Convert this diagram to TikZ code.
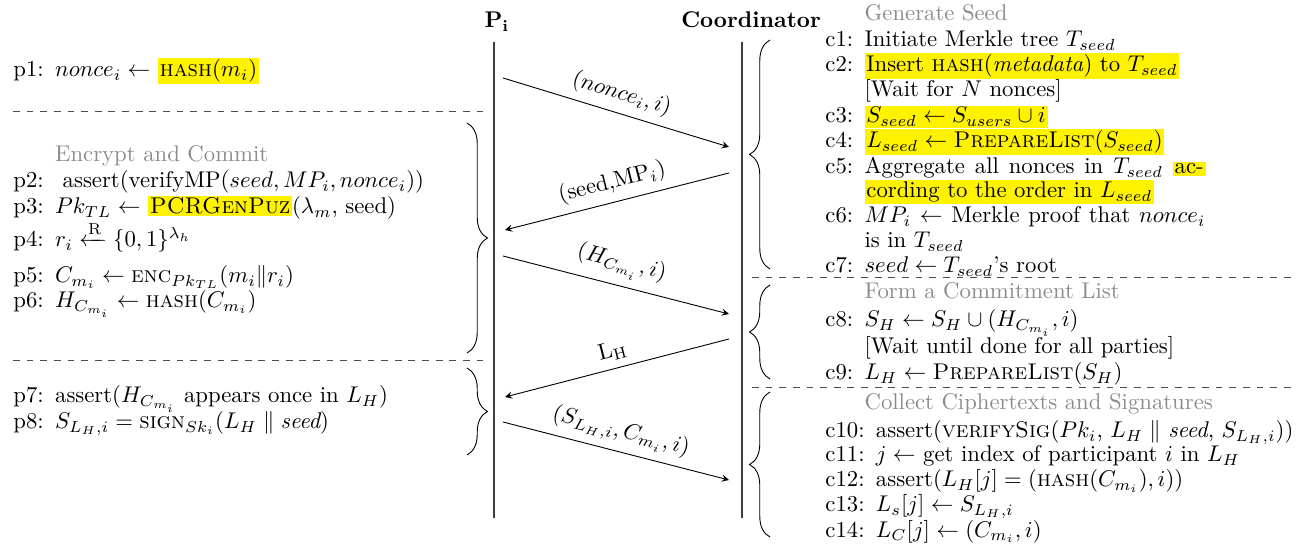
\documentclass[tikz,border=0pt]{standalone}
\usepackage{amsmath,amssymb}
\usetikzlibrary{decorations.pathreplacing}

\newcommand{\hlt}[1]{{\setlength{\fboxsep}{0.8pt}\colorbox{yellow}{#1}}}
\newcommand{\gap}{\hspace{5pt}}

\begin{document}
\begin{tikzpicture}[x=0.44pt,y=-0.44pt,
  line/.style={anchor=base west,inner sep=0pt},
  head/.style={anchor=base west,inner sep=0pt,text=black!45},
  life/.style={black!75,line width=0.6pt},
  msg/.style={-stealth},
  sep/.style={dashed,black!70},
  brc/.style={decorate,decoration={brace,amplitude=9pt}}]

\useasboundingbox (0,0) rectangle (1308,546);

% parties
\node[anchor=base] (pi) at (497,28) {$\mathbf{P_i}$};
\node[anchor=base] (co) at (751,28) {\textbf{Coordinator}};

\coordinate (pitop) at (494,42);
\coordinate (pibot) at (494,518);
\coordinate (cotop) at (742,42);
\coordinate (cobot) at (742,518);
\draw[life] (pitop) -- (pibot);
\draw[life] (cotop) -- (cobot);

% messages
\coordinate (m1s) at (503,78);
\coordinate (m1e) at (729,147);
\coordinate (m2s) at (729,173);
\coordinate (m2e) at (505,230);
\coordinate (m3s) at (503,256);
\coordinate (m3e) at (729,314);
\coordinate (m4s) at (729,339);
\coordinate (m4e) at (505,397);
\coordinate (m5s) at (503,422);
\coordinate (m5e) at (729,480);

\draw[msg] (m1s) -- node[above,sloped] (l1) {$(nonce_i, i)$} (m1e);
\draw[msg] (m2s) -- node[above,sloped] (l2) {(seed,MP$_i$)} (m2e);
\draw[msg] (m3s) -- node[above,sloped] (l3) {$(H_{C_{m_i}}, i)$} (m3e);
\draw[msg] (m4s) -- node[above,sloped] (l4) {$\mathrm{L_H}$} (m4e);
\draw[msg] (m5s) -- node[above,sloped] (l5) {$(S_{L_H,i}, C_{m_i}, i)$} (m5e);

% party steps
\node[line] (p1) at (13,77) {p1:\gap $nonce_i \leftarrow$ \hlt{\textsc{hash}$(m_i)$}};
\draw[sep] (13,111) -- (485,111);

\node[head] (hp) at (13,162) {\phantom{p1:}\gap Encrypt and Commit};
\node[line] (p2) at (13,188) {p2:\gap\ assert(verifyMP($seed, MP_i, nonce_i$))};
\node[line] (p3) at (13,214) {p3:\gap $Pk_{TL} \leftarrow$ \hlt{\textsc{PCRGenPuz}}$(\lambda_m$, seed)};
\node[line] (p4) at (13,247) {p4:\gap $r_i \xleftarrow{\mathrm{R}} \{0,1\}^{\lambda_h}$};
\node[line] (p5) at (13,283) {p5:\gap $C_{m_i} \leftarrow \textsc{enc}_{Pk_{TL}}(m_i \| r_i)$};
\node[line] (p6) at (13,308) {p6:\gap $H_{C_{m_i}} \leftarrow \textsc{hash}(C_{m_i})$};
\draw[brc] (467,123) -- (467,353);
\draw[sep] (13,360) -- (485,360);

\node[line] (p7) at (13,403) {p7:\gap assert($H_{C_{m_i}}$ appears once in $L_H$)};
\node[line] (p8) at (13,429) {p8:\gap $S_{L_H,i} = \textsc{sign}_{Sk_i}(L_H \parallel \textit{seed})$};
\draw[brc] (467,368) -- (467,455);

% coordinator steps
\node[head] (hc1) at (825,21) {\phantom{c1:}\gap Generate Seed};
\node[line] (c1) at (825,47) {c1:\gap Initiate Merkle tree $T_{seed}$};
\node[line] (c2) at (825,72) {c2:\gap \hlt{Insert \textsc{hash}(\textit{metadata}) to $T_{seed}$}};
\node[line] (w1) at (825,97) {\phantom{c1:}\gap [Wait for $N$ nonces]};
\node[line] (c3) at (825,123) {c3:\gap \hlt{$S_{seed} \leftarrow S_{users} \cup i$}};
\node[line] (c4) at (825,148) {c4:\gap \hlt{$L_{seed} \leftarrow \textsc{PrepareList}(S_{seed})$}};
\node[line] (c5) at (825,174) {c5:\gap \makebox[150pt][s]{Aggregate all nonces in $T_{seed}$ \hlt{ac-}}};
\node[line] (c5b) at (825,198) {\phantom{c1:}\gap \hlt{cording to the order in $L_{seed}$}};
\node[line] (c6) at (825,223) {c6:\gap \makebox[150pt][s]{$MP_i$ $\leftarrow$ Merkle proof that $nonce_i$}};
\node[line] (c6b) at (825,248) {\phantom{c1:}\gap is in $T_{seed}$};
\node[line] (c7) at (825,273) {c7:\gap $seed \leftarrow T_{seed}$'s root};
\draw[brc] (770,269) -- (770,40);
\draw[sep] (752,277) -- (1295,277);

\node[head] (hc2) at (825,299) {\phantom{c1:}\gap Form a Commitment List};
\node[line] (c8) at (825,327) {c8:\gap $S_H \leftarrow S_H \cup (H_{C_{m_i}}, i)$};
\node[line] (w2) at (825,354) {\phantom{c1:}\gap [Wait until done for all parties]};
\node[line] (c9) at (825,380) {c9:\gap $L_H \leftarrow \textsc{PrepareList}(S_H)$};
\draw[brc] (770,379) -- (770,285);
\draw[sep] (752,387) -- (1295,387);

\node[head] (hc3) at (825,410) {\phantom{c1:}\gap Collect Ciphertexts and Signatures};
\node[line] (c10) at (825,438) {c10:\gap assert(\textsc{verifySig}($Pk_i$, $L_H \parallel$ \textit{seed}, $S_{L_H,i}$))};
\node[line] (c11) at (825,462) {c11:\gap $j \leftarrow$ get index of participant $i$ in $L_H$};
\node[line] (c12) at (825,487) {c12:\gap assert($L_H[j] = (\textsc{hash}(C_{m_i}), i)$)};
\node[line] (c13) at (825,512) {c13:\gap $L_s[j] \leftarrow S_{L_H,i}$};
\node[line] (c14) at (825,537) {c14:\gap $L_C[j] \leftarrow (C_{m_i}, i)$};
\draw[brc] (770,537) -- (770,392);

\end{tikzpicture}
\end{document}
